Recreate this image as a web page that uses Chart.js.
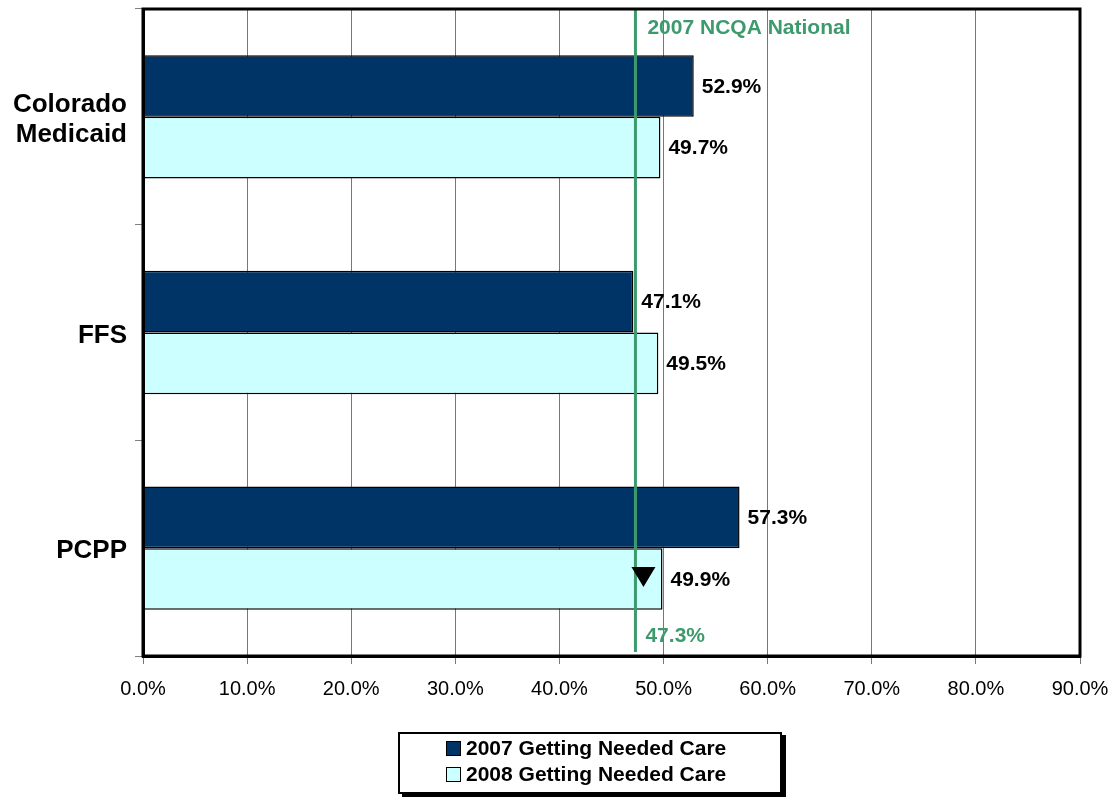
<!DOCTYPE html>
<html>
<head>
<meta charset="utf-8">
<script src="https://cdn.jsdelivr.net/npm/chart.js@4.4.1/dist/chart.umd.min.js"></script>
<style>
body { margin: 0; background: #fff; font-family: "Liberation Sans", Arial, sans-serif; }
#wrap { position: relative; width: 1112px; height: 797px; }
#legend {
    position: absolute; left: 398px; top: 732px; width: 384px; height: 62px;
    border: 2px solid #000; box-shadow: 4px 3px 0 #000; background: #fff;
    box-sizing: border-box; padding-top: 1px;
}
.item { display: flex; align-items: center; margin-left: 46px; height: 26px;
    font-weight: bold; font-size: 21px; color: #000; }
.swatch { width: 13px; height: 13px; border: 1px solid #000; margin-right: 5px; }
</style>
</head>
<body>
<div id="wrap">
    <canvas id="chart" width="1112" height="797"></canvas>
    <div id="legend"></div>
</div>
<script>
const categories = [['Colorado', 'Medicaid'], 'FFS', 'PCPP'];
const seriesNames = ['2007 Getting Needed Care', '2008 Getting Needed Care'];
const values2007 = [52.9, 47.1, 57.3];
const values2008 = [49.7, 49.5, 49.9];
const ncqaNational = 47.3;
const ncqaLabel = '2007 NCQA National';
const xMin = 0, xMax = 90, xStep = 10;

const colors = ['#003366', '#ccffff'];
const green = '#3d9a6c';
const font = '"Liberation Sans", Arial, sans-serif';

// legend in html
document.getElementById('legend').innerHTML = seriesNames.map((n, i) =>
    `<div class="item"><span class="swatch" style="background:${colors[i]}"></span>${n}</div>`
).join('');

const overlay = {
    id: 'overlay',
    afterDatasetsDraw(chart) {
        const { ctx, chartArea: a, scales: { x } } = chart;
        ctx.save();

        // value labels
        ctx.font = 'bold 21px ' + font;
        ctx.fillStyle = '#000';
        ctx.textBaseline = 'middle';
        ctx.textAlign = 'left';
        chart.data.datasets.forEach((ds, di) => {
            chart.getDatasetMeta(di).data.forEach((bar, i) => {
                ctx.fillText(ds.data[i].toFixed(1) + '%', bar.x + 8, bar.y + 1);
            });
        });

        // reference line
        const rx = x.getPixelForValue(ncqaNational);
        ctx.strokeStyle = green;
        ctx.lineWidth = 3;
        ctx.beginPath();
        ctx.moveTo(rx, a.top + 1);
        ctx.lineTo(rx, a.bottom - 4);
        ctx.stroke();

        ctx.fillStyle = green;
        ctx.fillText(ncqaLabel, rx + 12, a.top + 19);
        ctx.fillText(ncqaNational.toFixed(1) + '%', rx + 10, a.bottom - 20);

        // down arrow marker on the PCPP 2008 bar
        const b = chart.getDatasetMeta(1).data[2];
        const cx = rx + 8, cy = b.y - 2;
        ctx.fillStyle = '#000';
        ctx.beginPath();
        ctx.moveTo(cx - 12, cy - 10);
        ctx.lineTo(cx + 12, cy - 10);
        ctx.lineTo(cx, cy + 10);
        ctx.closePath();
        ctx.fill();

        // plot frame
        ctx.strokeStyle = '#000';
        ctx.lineWidth = 3;
        ctx.strokeRect(a.left, a.top, a.right - a.left, a.bottom - a.top);
        ctx.restore();
    }
};

new Chart(document.getElementById('chart'), {
    type: 'bar',
    data: {
        labels: categories,
        datasets: seriesNames.map((n, i) => ({
            label: n,
            data: i === 0 ? values2007 : values2008,
            backgroundColor: colors[i],
            borderColor: '#000',
            borderWidth: 1.5,
            borderSkipped: false,
            barPercentage: 1,
            categoryPercentage: 0.572,
        }))
    },
    options: {
        indexAxis: 'y',
        responsive: false,
        animation: false,
        layout: { padding: { left: 0, right: 32, top: 9, bottom: 81 } },
        plugins: { legend: { display: false }, tooltip: { enabled: false } },
        scales: {
            x: {
                min: xMin, max: xMax,
                afterFit: s => { s.height = 60; s.paddingLeft = 0; s.paddingRight = 0; },
                ticks: {
                    stepSize: xStep,
                    padding: 13,
                    color: '#000',
                    font: { family: font, size: 20 },
                    callback: v => v.toFixed(1) + '%'
                },
                grid: { color: '#777777', lineWidth: 1, tickLength: 8 },
                border: { color: '#000', width: 3 }
            },
            y: {
                afterFit: s => { s.width = 143; s.paddingTop = 0; s.paddingBottom = 0; },
                ticks: {
                    padding: 8,
                    labelOffset: 3,
                    color: '#000',
                    font: { family: font, size: 26, weight: 'bold', lineHeight: 1.15 }
                },
                grid: { drawOnChartArea: false, color: '#808080', tickLength: 8, offset: true },
                border: { color: '#000', width: 3 }
            }
        }
    },
    plugins: [overlay]
});
</script>
</body>
</html>
